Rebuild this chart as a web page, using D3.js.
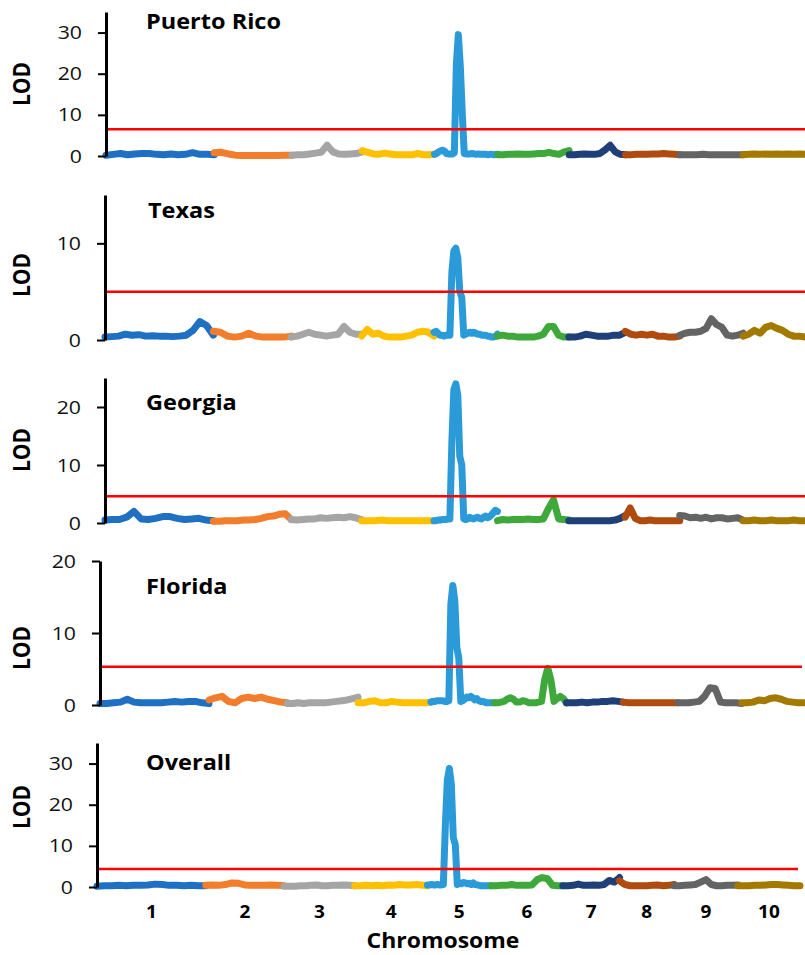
<!DOCTYPE html>
<html>
<head>
<meta charset="utf-8">
<script src="https://cdn.jsdelivr.net/npm/d3@7"></script>
<style>
  body { margin: 0; background: #fff; }
  svg { display: block; }
  text { font-family: "Open Sans", sans-serif; fill: #000; }
</style>
</head>
<body>
<svg id="chart"></svg>
<script>
// Chromosomes and their relative map lengths
const chromosomes = ["1", "2", "3", "4", "5", "6", "7", "8", "9", "10"];
const chrLengths = [108.5, 78, 70.5, 72.5, 63.5, 71.5, 56.5, 54.5, 63.5, 62];

const panelNames = ["Puerto Rico", "Texas", "Georgia", "Florida", "Overall"];
const thresholds = [6.5, 5.0, 4.6, 5.3, 4.4];
const yMax = [35, 15, 25, 20, 35];
const yTicks = [[0, 10, 20, 30], [0, 10], [0, 10, 20], [0, 10, 20], [0, 10, 20, 30]];

// LOD profiles, one array per chromosome (evenly spaced along the chromosome)
const lodPuertoRico = [
  [0.2, 0.4, 0.6, 0.3, 0.5, 0.6, 0.6, 0.4, 0.3, 0.5, 0.3, 0.4, 0.8, 0.4, 0.4, 0.3],
  [0.8, 0.9, 0.5, 0.2, 0.15, 0.15, 0.15, 0.15, 0.15, 0.15, 0.2, 0.2],
  [0.2, 0.3, 0.3, 0.5, 0.7, 0.9, 2.6, 1.0, 0.5, 0.4, 0.5, 0.6, 1.0],
  [1.3, 0.9, 0.5, 0.4, 0.7, 0.5, 0.3, 0.3, 0.3, 0.3, 0.6, 0.3, 0.3, 0.4],
  [0.4, 0.6, 1.0, 1.2, 1.4, 1.2, 0.6, 0.5, 0.5, 0.5, 0.8, 22, 29.5, 22, 10.5, 0.6,
   0.5, 0.5, 0.5, 0.6, 0.5, 0.4, 0.5, 0.4, 0.4, 0.4, 0.4, 0.3, 0.4, 0.4, 0.3, 0.4, 0.4],
  [0.3, 0.3, 0.4, 0.4, 0.5, 0.4, 0.4, 0.5, 0.6, 0.6, 0.9, 0.6, 0.4, 1.0, 1.3],
  [0.3, 0.3, 0.4, 0.5, 0.4, 0.4, 0.6, 1.5, 2.6, 1.0, 0.4, 0.3],
  [0.3, 0.3, 0.4, 0.4, 0.4, 0.5, 0.5, 0.6, 0.5, 0.4, 0.3],
  [0.3, 0.3, 0.3, 0.3, 0.4, 0.3, 0.3, 0.3, 0.3, 0.3, 0.3, 0.3],
  [0.3, 0.4, 0.5, 0.4, 0.5, 0.4, 0.5, 0.4, 0.5, 0.4, 0.5, 0.4]
];

const lodTexas = [
  [0.3, 0.35, 0.4, 0.6, 0.5, 0.55, 0.4, 0.45, 0.4, 0.4, 0.35, 0.4, 0.5, 1.0, 1.9, 1.5, 0.5],
  [0.9, 0.8, 0.4, 0.3, 0.4, 0.7, 0.4, 0.3, 0.3, 0.3, 0.3, 0.4],
  [0.3, 0.4, 0.6, 0.8, 0.6, 0.5, 0.4, 0.5, 0.6, 1.4, 0.8, 0.6, 0.6],
  [0.4, 1.1, 0.6, 0.7, 0.4, 0.3, 0.3, 0.3, 0.4, 0.5, 0.8, 0.9, 0.8, 0.4],
  [0.8, 0.9, 0.7, 0.5, 0.5, 0.4, 0.5, 0.5, 0.5, 7.0, 9.2, 9.5, 8.5, 5.0, 4.4, 0.5,
   0.6, 0.7, 0.8, 0.7, 0.8, 0.7, 0.6, 0.6, 0.5, 0.5, 0.5, 0.4, 0.4, 0.3, 0.3, 0.4, 0.6],
  [0.4, 0.5, 0.4, 0.4, 0.3, 0.3, 0.3, 0.3, 0.4, 0.6, 1.4, 1.4, 0.5, 0.3, 0.3],
  [0.3, 0.3, 0.4, 0.6, 0.5, 0.4, 0.4, 0.4, 0.5, 0.5, 0.8],
  [0.9, 0.6, 0.5, 0.6, 0.5, 0.6, 0.4, 0.4, 0.3, 0.3, 0.4],
  [0.5, 0.7, 0.8, 0.8, 0.9, 1.2, 2.2, 1.6, 1.3, 0.5, 0.4, 0.5, 0.7],
  [0.4, 0.6, 1.0, 0.7, 1.3, 1.5, 1.2, 1.0, 0.6, 0.4, 0.4, 0.3]
];

const lodGeorgia = [
  [0.5, 0.6, 0.6, 1.0, 2.0, 0.7, 0.6, 0.8, 1.1, 1.1, 0.8, 0.6, 0.7, 0.8, 0.5, 0.4],
  [0.3, 0.3, 0.4, 0.4, 0.4, 0.5, 0.5, 0.6, 0.8, 1.1, 1.2, 1.5, 1.6, 0.6],
  [0.6, 0.5, 0.6, 0.7, 0.7, 0.9, 0.8, 0.9, 1.0, 0.9, 1.1, 0.9, 0.6],
  [0.4, 0.4, 0.4, 0.5, 0.4, 0.4, 0.4, 0.4, 0.4, 0.4, 0.4, 0.4],
  [0.4, 0.4, 0.5, 0.5, 0.6, 0.6, 0.6, 0.7, 0.7, 14, 23, 24, 22, 11.5, 10, 0.7,
   0.6, 0.7, 1.0, 0.8, 0.7, 0.9, 1.0, 0.8, 0.7, 1.0, 1.2, 0.9, 1.1, 1.4, 1.8, 2.2, 2.0],
  [0.4, 0.6, 0.5, 0.6, 0.6, 0.6, 0.7, 0.6, 0.6, 0.7, 2.5, 4.0, 0.7, 0.6, 0.5],
  [0.4, 0.4, 0.4, 0.4, 0.4, 0.4, 0.4, 0.4, 0.4, 0.5, 0.8, 1.3],
  [1.0, 2.6, 0.8, 0.4, 0.4, 0.5, 0.4, 0.4, 0.4, 0.4, 0.4, 0.4],
  [1.3, 1.2, 0.9, 1.0, 0.8, 1.0, 0.7, 0.9, 0.9, 0.7, 0.8, 0.9, 0.5],
  [0.4, 0.4, 0.5, 0.4, 0.4, 0.5, 0.4, 0.4, 0.4, 0.5, 0.4, 0.4]
];

const lodFlorida = [
  [0.2, 0.2, 0.3, 0.4, 0.8, 0.4, 0.3, 0.3, 0.3, 0.3, 0.4, 0.5, 0.4, 0.5, 0.5, 0.3, 0.2],
  [0.7, 1.0, 1.2, 0.5, 0.3, 0.9, 1.1, 0.9, 1.1, 0.8, 0.6, 0.4, 0.3],
  [0.2, 0.2, 0.3, 0.2, 0.3, 0.3, 0.3, 0.3, 0.4, 0.5, 0.6, 0.7, 0.9, 1.1],
  [0.3, 0.3, 0.5, 0.6, 0.3, 0.3, 0.5, 0.4, 0.3, 0.3, 0.3, 0.3, 0.3, 0.4],
  [0.4, 0.5, 0.5, 0.6, 0.6, 0.6, 0.6, 0.5, 0.5, 0.6, 14, 16.6, 14.5, 8, 6.5, 0.5,
   0.6, 0.8, 1.1, 1.0, 1.2, 1.0, 0.7, 0.9, 0.6, 0.5, 0.5, 0.4, 0.3, 0.3, 0.3, 0.3, 0.3],
  [0.3, 0.3, 0.4, 0.5, 0.8, 1.0, 0.8, 0.4, 0.4, 0.6, 0.5, 0.3, 0.3, 0.3, 0.4,
   0.5, 3.5, 5.1, 3.5, 0.5, 0.9, 1.2, 0.9, 0.3],
  [0.3, 0.3, 0.3, 0.4, 0.3, 0.4, 0.4, 0.5, 0.5, 0.6, 0.5, 0.4],
  [0.4, 0.3, 0.3, 0.3, 0.3, 0.3, 0.3, 0.3, 0.3, 0.3, 0.3],
  [0.3, 0.3, 0.3, 0.4, 0.5, 1.2, 2.4, 2.3, 0.4, 0.3, 0.3, 0.3, 0.2],
  [0.3, 0.3, 0.4, 0.7, 0.6, 0.9, 1.0, 0.8, 0.5, 0.4, 0.3, 0.3]
];

const lodOverall = [
  [0.2, 0.3, 0.3, 0.4, 0.3, 0.4, 0.4, 0.5, 0.7, 0.6, 0.4, 0.4, 0.3, 0.4, 0.3, 0.3],
  [0.4, 0.5, 0.4, 0.6, 1.0, 0.9, 0.5, 0.4, 0.4, 0.4, 0.5, 0.4, 0.3],
  [0.2, 0.2, 0.2, 0.3, 0.3, 0.4, 0.5, 0.3, 0.3, 0.4, 0.4, 0.5, 0.4, 0.3],
  [0.3, 0.3, 0.4, 0.3, 0.4, 0.3, 0.5, 0.4, 0.6, 0.5, 0.5, 0.6, 0.5, 0.3],
  [0.5, 0.5, 0.6, 0.5, 0.5, 0.6, 0.5, 0.5, 0.6, 15, 26, 28.8, 25, 12, 10.3, 0.6,
   1.0, 0.8, 1.1, 1.0, 0.8, 0.9, 0.6, 1.0, 0.6, 0.5, 0.4, 0.3, 0.3, 0.3, 0.3, 0.3, 0.3],
  [0.3, 0.3, 0.4, 0.4, 0.6, 0.4, 0.4, 0.4, 0.5, 1.8, 2.3, 2.0, 0.4, 0.3, 0.3],
  [0.3, 0.3, 0.4, 0.7, 0.4, 0.4, 0.5, 0.4, 0.6, 1.6, 1.2, 2.3],
  [1.5, 0.6, 0.3, 0.3, 0.3, 0.3, 0.4, 0.5, 0.3, 0.4, 0.6],
  [0.3, 0.3, 0.4, 0.5, 0.6, 1.2, 1.8, 0.6, 0.3, 0.3, 0.4, 0.4, 0.5],
  [0.3, 0.3, 0.3, 0.4, 0.4, 0.5, 0.6, 0.6, 0.5, 0.4, 0.3, 0.3]
];

const lodSeries = [lodPuertoRico, lodTexas, lodGeorgia, lodFlorida, lodOverall];

// Colours, one per chromosome
const chrColors = ["#1f6fc3", "#f27d2c", "#a5a5a5", "#ffc000", "#2b9ad8",
                   "#3ea93a", "#1f3f78", "#b04b10", "#646464", "#a37900"];

// Pixel layout of each stacked panel
const panels = [
  { top: 12,  zero: 156, left: 106, right: 805, lineEnd: 805, titleX: 146, titleY: 29,  labelY: 84 },
  { top: 195, zero: 340, left: 105, right: 805, lineEnd: 805, titleX: 148, titleY: 218, labelY: 275 },
  { top: 378, zero: 523, left: 105, right: 805, lineEnd: 805, titleX: 146, titleY: 410, labelY: 450 },
  { top: 561, zero: 705, left: 100, right: 804, lineEnd: 802, titleX: 146, titleY: 594, labelY: 648 },
  { top: 743, zero: 887, left: 97,  right: 800, lineEnd: 798, titleX: 146, titleY: 770, labelY: 807 }
];

const sx = 1.12; // the original text is slightly stretched horizontally

const svg = d3.select("#chart")
    .attr("width", 805)
    .attr("height", 955);

const chrStarts = Array.from(d3.cumsum([0, ...chrLengths]));
const genomeLength = d3.sum(chrLengths);

function stretchedText(parent, x, y, str, size, weight, anchor, extra) {
    return parent.append("text")
        .attr("transform", `translate(${x},${y}) scale(${sx},1)${extra || ""}`)
        .attr("text-anchor", anchor)
        .style("font-size", size + "px")
        .style("font-weight", weight)
        .text(str);
}

panels.forEach((p, i) => {
    const x = d3.scaleLinear().domain([0, genomeLength]).range([p.left, p.right]);
    const y = d3.scaleLinear().domain([0, yMax[i]]).range([p.zero, p.top]);
    const g = svg.append("g").attr("class", "panel");

    const line = d3.line()
        .x(d => x(d[0]))
        .y(d => y(d[1]));

    // one line per chromosome
    lodSeries[i].forEach((vals, c) => {
        const pts = vals.map((v, j) => [chrStarts[c] + chrLengths[c] * j / (vals.length - 1), v]);
        g.append("path")
            .datum(pts)
            .attr("d", line)
            .attr("fill", "none")
            .attr("stroke", chrColors[c])
            .attr("stroke-width", 7)
            .attr("stroke-linejoin", "round")
            .attr("stroke-linecap", "round");
    });

    // significance threshold
    g.append("line")
        .attr("x1", p.left)
        .attr("x2", p.lineEnd)
        .attr("y1", y(thresholds[i]))
        .attr("y2", y(thresholds[i]))
        .attr("stroke", "#ff0000")
        .attr("stroke-width", 2.5);

    // y axis
    const axis = g.append("g")
        .attr("transform", `translate(${p.left},0)`)
        .call(d3.axisLeft(y)
            .tickValues(yTicks[i])
            .tickSize(8)
            .tickSizeOuter(0)
            .tickFormat(d3.format("d")));
    axis.select(".domain").attr("stroke", "#000").attr("stroke-width", 3);
    axis.selectAll(".tick line").attr("stroke", "#000").attr("stroke-width", 2);
    axis.selectAll(".tick text")
        .attr("x", -24 / sx)
        .attr("transform", `scale(${sx},1)`)
        .style("font-size", "19px")
        .style("fill", "#111");

    // axis title
    stretchedText(g, 22, p.labelY, "LOD", 21, "bold", "middle", " rotate(-90)")
        .attr("dy", "0.35em");

    // panel title
    stretchedText(g, p.titleX, p.titleY, panelNames[i], 21, "bold", "start");

    // chromosome labels under the last panel
    if (i === panels.length - 1) {
        chromosomes.forEach((name, c) => {
            stretchedText(g, x(chrStarts[c] + chrLengths[c] / 2), 918, name, 17, "bold", "middle");
        });
        stretchedText(g, 443, 948, "Chromosome", 20.5, "bold", "middle");
    }
});
</script>
</body>
</html>
